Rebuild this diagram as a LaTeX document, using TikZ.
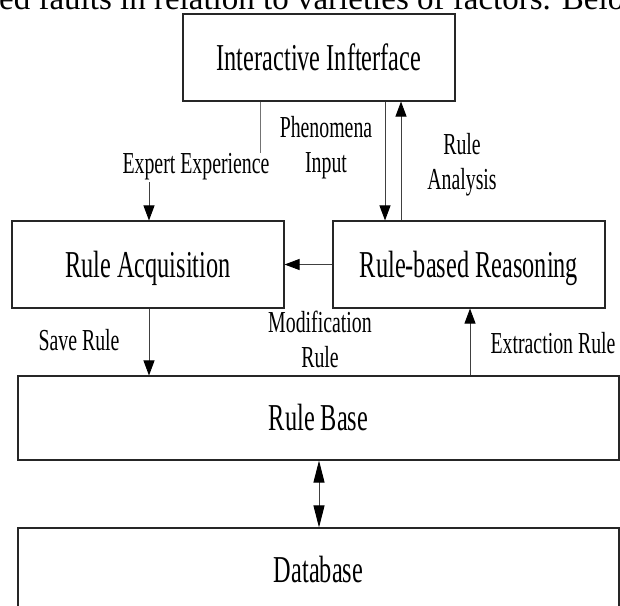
\documentclass[tikz,border=0pt]{standalone}
\usepackage{fontspec}
\setmainfont{Liberation Serif}
\newfontfamily\condfont[FakeStretch=0.64]{Liberation Serif}
\newfontfamily\lblfont[FakeStretch=0.65]{Liberation Serif}
\usetikzlibrary{arrows.meta}
\tikzset{
  box/.style={draw=black!85, line width=1.1pt, inner sep=0pt, minimum width=272pt, minimum height=87pt,
    font=\condfont\fontsize{38}{42}\selectfont, text height=25pt, text depth=0pt},
  widebox/.style={box, minimum width=601pt, minimum height=84pt},
  lbl/.style={inner sep=0pt, font=\lblfont\fontsize{30.5}{35}\selectfont, align=center},
  conn/.style={draw=black!75, line width=0.9pt},
  arr/.style={conn, -{Triangle[length=15pt,width=11pt,color=black]}},
  dblarr/.style={conn, {Triangle[length=22pt,width=11pt,color=black]}-{Triangle[length=22pt,width=11pt,color=black]}}
}
\begin{document}
\begin{tikzpicture}[x=1pt,y=-1pt]
\useasboundingbox (0,0) rectangle (620,605);
\clip (0,0) rectangle (620,605);
\node[anchor=base west, inner sep=0pt, font=\fontsize{33}{36}\selectfont] (toptext) at (-1,9.5) {ed faults in relation to varieties of factors. Below};
% boxes
\node[box] (ii) at (319,57.5) {Interactive Infterface};
\node[box] (ra) at (148,264.5) {Rule Acquisition};
\node[box] (rbr) at (469,264.5) {Rule-based Reasoning};
\node[widebox] (rb) at (318.5,418) {Rule Base};
\node[widebox] (db) at (318.5,570) {Database};
% labels
\node[lbl, anchor=base] (expert) at (196,173) {Expert Experience};
\node[lbl] (phen) at (326,148) {Phenomena\\Input};
\node[lbl] (ana) at (462,164.5) {Rule\\Analysis};
\node[lbl, anchor=base] (save) at (79,350) {Save Rule};
\node[lbl] (modif) at (320,339) {Modification\\Rule};
\node[lbl, anchor=base] (extr) at (553,353) {Extraction Rule};
\coordinate (e2) at (149,182);
% connectors
\draw[conn, draw=black!55] ([xshift=78]ii.south west) -- ([xshift=78]ii.south west |- expert.north);
\draw[arr] (e2) -- (e2 |- ra.north);
\draw[arr] ([xshift=66]ii.south) -- ([xshift=66]ii.south |- rbr.north);
\draw[arr] ([xshift=82]ii.south |- rbr.north) -- ([xshift=82]ii.south);
\draw[arr] (rbr.west) -- (ra.east);
\draw[arr] ([xshift=1]ra.south) -- ([xshift=1]ra.south |- rb.north);
\draw[arr] ([xshift=1]rbr.south |- rb.north) -- ([xshift=1]rbr.south);
\draw[dblarr] ([xshift=0.5]rb.south) -- ([xshift=0.5]db.north);
\end{tikzpicture}
\end{document}
